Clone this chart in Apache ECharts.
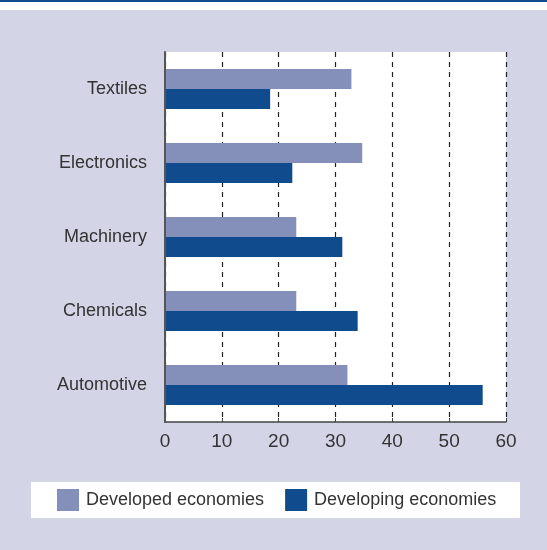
<!DOCTYPE html>
<html><head><meta charset="utf-8">
<script src="https://cdn.jsdelivr.net/npm/echarts@6/dist/echarts.min.js"></script>
<style>html,body{margin:0;padding:0;background:#d3d4e6;}#c{width:547px;height:550px;}</style>
</head><body><div id="c"></div>
<script>
const categories = ['Textiles', 'Electronics', 'Machinery', 'Chemicals', 'Automotive'];
const developed = [32.8, 34.7, 23.1, 23.1, 32.1];
const developing = [18.5, 22.4, 31.2, 33.9, 55.9];
const xTicks = [0, 10, 20, 30, 40, 50, 60];
const seriesNames = ['Developed economies', 'Developing economies'];

const FONT = "'Liberation Sans', Arial, sans-serif";
const chart = echarts.init(document.getElementById('c'), null, {renderer: 'canvas'});
chart.setOption({
  backgroundColor: '#d3d4e6',
  animation: false,
  graphic: [
    {type: 'rect', left: 0, top: 0, shape: {width: 547, height: 10}, style: {fill: '#ffffff'}, z: 0},
    {type: 'rect', left: 0, top: 0, shape: {width: 547, height: 2}, style: {fill: '#0f4c8f'}, z: 1},
    {type: 'rect', left: 31, top: 482, shape: {width: 489, height: 36}, style: {fill: '#ffffff'}, z: 0}
  ],
  grid: {left: 165, right: 41, top: 52, bottom: 128, show: true, backgroundColor: '#ffffff', borderWidth: 0},
  legend: {
    data: seriesNames, left: 57, top: 489, padding: 0, itemWidth: 22, itemHeight: 22, itemGap: 21,
    icon: 'rect',
    textStyle: {fontFamily: FONT, fontSize: 18, color: '#333', padding: [2, 0, 0, 2]}
  },
  xAxis: {
    type: 'value', min: xTicks[0], max: xTicks[xTicks.length - 1], interval: 10,
    axisLine: {show: true, lineStyle: {color: '#444', width: 1.5}},
    axisTick: {show: true, inside: true, length: 4, lineStyle: {color: '#444'}},
    axisLabel: {fontFamily: FONT, fontSize: 19, color: '#333', margin: 10},
    splitLine: {show: true, lineStyle: {color: '#222', type: [5, 5], width: 1.2}}
  },
  yAxis: {
    type: 'category', data: categories, inverse: true, z: 5,
    axisLine: {show: true, lineStyle: {color: '#555', width: 2}},
    axisTick: {show: false},
    axisLabel: {fontFamily: FONT, fontSize: 18, color: '#333', margin: 18}
  },
  series: [
    {name: seriesNames[0], type: 'bar', data: developed, barWidth: 20, barGap: '0%', itemStyle: {color: '#8490ba'}},
    {name: seriesNames[1], type: 'bar', data: developing, barWidth: 20, barGap: '0%', itemStyle: {color: '#104b8e'}}
  ]
});
</script></body></html>
